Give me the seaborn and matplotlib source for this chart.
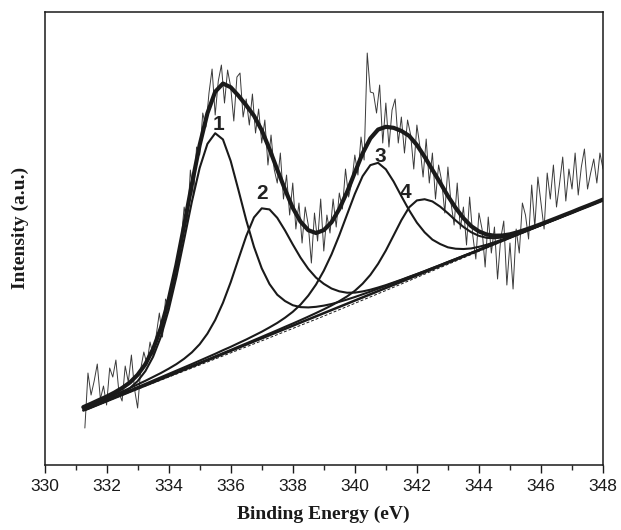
import numpy as np
import matplotlib
matplotlib.use('Agg')
import matplotlib.pyplot as plt
import seaborn as sns
from matplotlib.ticker import MultipleLocator

# Raw XPS spectrum, one point every 0.1 eV from 331.3 eV (intensity in arbitrary units)
raw_start = 331.3
raw_step = 0.1
raw_counts = [
    37, 92, 70, 84, 101, 66, 79, 60, 97, 88,
    105, 72, 64, 99, 83, 110, 76, 57, 96, 113,
    101, 123, 109, 130, 152, 128, 166, 160, 181, 196,
    205, 224, 258, 240, 295, 268, 318, 310, 352, 338,
    372, 396, 350, 384, 400, 362, 395, 378, 344, 388,
    392, 348, 366, 340, 371, 332, 356, 322, 345, 300,
    330, 296, 282, 312, 266, 290, 250, 282, 236, 262,
    222, 258, 240, 202, 252, 224, 266, 214, 250, 232,
    266, 238, 272, 256, 296, 268, 282, 310, 290, 328,
    305, 412, 373, 372, 352, 380, 322, 362, 318, 355,
    366, 322, 348, 312, 345, 330, 296, 340, 318, 288,
    326, 282, 312, 266, 300, 284, 252, 298, 262, 240,
    282, 236, 258, 220, 268, 230, 206, 252, 236, 198,
    248, 212, 238, 186, 226, 244, 180, 222, 176, 236,
    212, 262, 250, 226, 280, 238, 288, 262, 236, 292,
    266, 300, 258, 282, 308, 264, 296, 276, 312, 270,
    298, 316, 276, 292, 306, 282, 312, 296,
]

# Fitted curves, sampled every 0.25 eV from 331.25 eV
fit_start = 331.25
fit_step = 0.25
peak1 = [
    54.4, 57.6, 60.8, 64.1, 67.7, 71.8, 76.9, 83.9, 93.9, 108.3,
    128.3, 155.1, 188.1, 225.5, 263.5, 297.1, 321.2, 331.8, 325.6, 304.0,
    274.9, 244.9, 218.2, 196.7, 181.0, 170.3, 164.0, 159.8, 157.9, 157.6,
    158.2, 159.4, 161.0, 163.2, 165.5, 168.0, 170.7, 173.4, 176.3, 179.1,
    182.1, 185.0, 188.0, 190.9, 193.9, 197.0, 200.0, 203.1, 206.1, 209.2,
    212.2, 215.4, 218.4, 221.6, 224.6, 227.7, 230.8, 233.9, 237.1, 240.2,
    243.3, 246.4, 249.6, 252.7, 255.9, 258.9, 262.0, 265.2,
]
peak2 = [
    56.5, 59.8, 63.2, 66.5, 70.0, 73.5, 76.9, 80.6, 84.2, 88.1,
    92.0, 96.3, 100.9, 106.3, 112.7, 120.8, 131.4, 145.0, 162.2, 182.8,
    206.0, 228.9, 247.6, 256.7, 255.6, 247.2, 234.6, 220.6, 207.4, 196.2,
    187.4, 181.2, 176.5, 173.7, 172.3, 172.4, 173.6, 175.3, 177.5, 179.9,
    182.6, 185.3, 188.2, 191.0, 193.9, 196.9, 199.9, 203.0, 206.0, 209.1,
    212.1, 215.3, 218.3, 221.5, 224.5, 227.6, 230.7, 233.8, 237.0, 240.1,
    243.3, 246.4, 249.5, 252.6, 255.8, 258.9, 262.0, 265.2,
]
peak3 = [
    55.5, 58.6, 61.9, 65.1, 68.3, 71.5, 74.7, 78.0, 81.2, 84.5,
    87.8, 91.1, 94.4, 97.7, 101.0, 104.4, 107.8, 111.2, 114.8, 118.2,
    121.9, 125.5, 129.4, 133.3, 137.6, 142.1, 147.3, 153.2, 160.4, 169.4,
    180.5, 194.3, 210.7, 229.8, 250.5, 271.1, 288.8, 299.9, 302.2, 295.7,
    283.5, 268.9, 254.8, 242.4, 232.7, 225.4, 221.0, 217.7, 216.3, 216.0,
    216.6, 218.2, 220.3, 222.8, 225.5, 228.3, 231.3, 234.3, 237.4, 240.4,
    243.5, 246.6, 249.7, 252.8, 256.0, 259.0, 262.1, 265.3,
]
peak4 = [
    54.7, 57.9, 61.1, 64.2, 67.4, 70.5, 73.6, 76.9, 80.0, 83.2,
    86.3, 89.6, 92.7, 96.0, 99.1, 102.3, 105.5, 108.7, 111.9, 115.1,
    118.4, 121.6, 124.9, 128.2, 131.5, 134.8, 138.2, 141.5, 144.9, 148.4,
    152.0, 155.7, 159.6, 163.9, 168.6, 174.2, 181.3, 190.1, 201.2, 214.5,
    229.6, 244.8, 257.7, 264.6, 265.8, 263.6, 258.4, 251.8, 244.6, 238.1,
    232.8, 229.2, 227.2, 226.8, 227.5, 229.1, 231.5, 234.1, 237.0, 240.0,
    243.2, 246.2, 249.4, 252.5, 255.7, 258.8, 261.9, 265.1,
]
envelope = [
    57.9, 61.3, 64.9, 68.4, 72.4, 77.0, 82.5, 90.2, 100.8, 116.0,
    137.0, 165.1, 199.8, 239.6, 281.1, 320.0, 351.8, 373.3, 381.5, 377.8,
    369.3, 359.7, 349.3, 334.8, 316.0, 295.4, 275.5, 257.2, 243.4, 234.8,
    232.0, 234.9, 242.8, 256.0, 273.0, 292.5, 311.6, 326.6, 335.5, 338.2,
    337.2, 334.1, 329.2, 320.1, 308.2, 295.2, 282.3, 269.0, 257.1, 246.9,
    238.9, 233.6, 230.5, 229.3, 229.5, 230.7, 232.8, 235.3, 238.0, 240.9,
    243.9, 246.9, 250.0, 253.0, 256.2, 259.2, 262.3, 265.5,
]

# Backgrounds: linear (solid) and the slightly sagging one (dashed)
bg_ev = [331.3, 348.0]
bg_counts = [55.0, 265.1]
bg2_ev = [331.3, 333, 335, 337, 339, 341, 343, 345, 348]
bg2_counts = [55.0, 75.9, 100.0, 124.2, 148.9, 174.5, 200.7, 226.8, 265.1]

peak_names = ['1', '2', '3', '4']
name_pos = [(335.62, 341), (337.01, 272), (340.81, 309), (341.62, 273)]

raw_ev = raw_start + raw_step * np.arange(len(raw_counts))
fit_ev = fit_start + fit_step * np.arange(len(envelope))

sns.set_style('ticks')
plt.rcParams['font.family'] = ['Liberation Sans', 'DejaVu Sans']

fig = plt.figure(figsize=(6.21, 5.30), dpi=100)
ax = fig.add_axes([0.0717, 0.1226, 0.8994, 0.8547])

ink = '#1a1a1a'
sns.lineplot(x=raw_ev, y=raw_counts, ax=ax, color='#3a3a3a', linewidth=0.7, estimator=None)
for comp in [peak1, peak2, peak3, peak4]:
    sns.lineplot(x=fit_ev, y=comp, ax=ax, color=ink, linewidth=1.5, estimator=None)
sns.lineplot(x=bg2_ev, y=bg2_counts, ax=ax, color=ink, linewidth=0.7, linestyle=(0, (3, 2)), estimator=None)
sns.lineplot(x=bg_ev, y=bg_counts, ax=ax, color=ink, linewidth=1.8, estimator=None)
sns.lineplot(x=fit_ev, y=envelope, ax=ax, color=ink, linewidth=3.0, estimator=None)

for name, (ex, ey) in zip(peak_names, name_pos):
    ax.text(ex, ey, name, fontsize=15, fontweight='bold', color='#222222',
            ha='center', va='center')

ax.set_xlim(330, 348)
ax.set_ylim(0, 453)
ax.xaxis.set_major_locator(MultipleLocator(2))
ax.xaxis.set_minor_locator(MultipleLocator(1))
ax.set_yticks([])
ax.tick_params(axis='x', which='major', direction='out', length=5.8, width=1.0,
               labelsize=12.5, pad=4, colors=ink)
ax.tick_params(axis='x', which='minor', direction='out', length=3.6, width=1.0)
for sp in ax.spines.values():
    sp.set_linewidth(1.1)
    sp.set_color(ink)

ax.set_xlabel('Binding Energy (eV)', fontfamily='Liberation Serif', fontweight='bold',
              fontsize=14, labelpad=9, color=ink)
ax.set_ylabel('Intensity (a.u.)', fontfamily='Liberation Serif', fontweight='bold',
              fontsize=14, color=ink)
ax.yaxis.set_label_coords(-0.027, 0.523)

fig.savefig('out.png', dpi=100)
